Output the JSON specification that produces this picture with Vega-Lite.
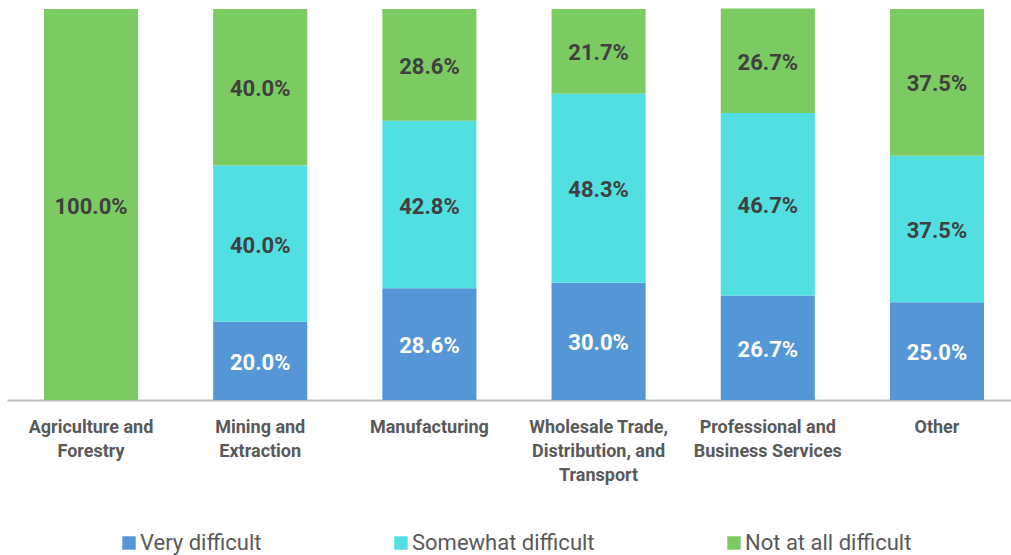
{
  "$schema": "https://vega.github.io/schema/vega-lite/v6.json",
  "autosize": "none",
  "width": 1004,
  "height": 391,
  "padding": {"left": 7, "top": 9, "right": 0, "bottom": 155},
  "background": "white",
  "config": {"view": {"stroke": null}},
  "data": {
    "values": [
      {"industry": "Agriculture and Forestry", "difficulty": "Very difficult", "share": 0},
      {"industry": "Agriculture and Forestry", "difficulty": "Somewhat difficult", "share": 0},
      {"industry": "Agriculture and Forestry", "difficulty": "Not at all difficult", "share": 1.0},
      {"industry": "Mining and Extraction", "difficulty": "Very difficult", "share": 0.2},
      {"industry": "Mining and Extraction", "difficulty": "Somewhat difficult", "share": 0.4},
      {"industry": "Mining and Extraction", "difficulty": "Not at all difficult", "share": 0.4},
      {"industry": "Manufacturing", "difficulty": "Very difficult", "share": 0.286},
      {"industry": "Manufacturing", "difficulty": "Somewhat difficult", "share": 0.428},
      {"industry": "Manufacturing", "difficulty": "Not at all difficult", "share": 0.286},
      {"industry": "Wholesale Trade, Distribution, and Transport", "difficulty": "Very difficult", "share": 0.3},
      {"industry": "Wholesale Trade, Distribution, and Transport", "difficulty": "Somewhat difficult", "share": 0.483},
      {"industry": "Wholesale Trade, Distribution, and Transport", "difficulty": "Not at all difficult", "share": 0.217},
      {"industry": "Professional and Business Services", "difficulty": "Very difficult", "share": 0.267},
      {"industry": "Professional and Business Services", "difficulty": "Somewhat difficult", "share": 0.467},
      {"industry": "Professional and Business Services", "difficulty": "Not at all difficult", "share": 0.267},
      {"industry": "Other", "difficulty": "Very difficult", "share": 0.25},
      {"industry": "Other", "difficulty": "Somewhat difficult", "share": 0.375},
      {"industry": "Other", "difficulty": "Not at all difficult", "share": 0.375}
    ]
  },
  "transform": [
    {"stack": "share", "groupby": ["industry"], "as": ["y0", "y1"]}
  ],
  "encoding": {
    "x": {
      "field": "industry",
      "type": "nominal",
      "sort": ["Agriculture and Forestry", "Mining and Extraction", "Manufacturing", "Wholesale Trade, Distribution, and Transport", "Professional and Business Services", "Other"],
      "scale": {"range": [0, 1014], "paddingInner": 0.444, "paddingOuter": 0.2187},
      "axis": {
        "title": null,
        "labelAngle": 0,
        "ticks": false,
        "domainColor": "#bfbfbf",
        "domainWidth": 2,
        "labelPadding": 18,
        "labelFont": "Roboto",
        "labelFontSize": 18,
        "labelFontWeight": "bold",
        "labelColor": "#595959",
        "labelLineHeight": 24,
        "labelLimit": 300,
        "labelExpr": "{'Agriculture and Forestry': ['Agriculture and', 'Forestry'], 'Mining and Extraction': ['Mining and', 'Extraction'], 'Wholesale Trade, Distribution, and Transport': ['Wholesale Trade,', 'Distribution, and', 'Transport'], 'Professional and Business Services': ['Professional and', 'Business Services']}[datum.label] || datum.label"
      }
    },
    "y": {
      "type": "quantitative",
      "scale": {"domain": [0, 1], "nice": false},
      "axis": null
    }
  },
  "layer": [
    {
      "mark": {"type": "bar"},
      "encoding": {
        "y": {
          "field": "y0",
          "type": "quantitative",
          "scale": {"domain": [0, 1], "nice": false},
          "axis": null
        },
        "y2": {"field": "y1"},
        "color": {
          "field": "difficulty",
          "type": "nominal",
          "sort": ["Very difficult", "Somewhat difficult", "Not at all difficult"],
          "scale": {
            "domain": ["Very difficult", "Somewhat difficult", "Not at all difficult"],
            "range": ["#5597D6", "#52DFE2", "#7CCA62"]
          },
          "legend": {
            "title": null,
            "orient": "none",
            "direction": "horizontal",
            "legendX": 111,
            "legendY": 523,
            "symbolType": "square",
            "symbolSize": 180,
            "symbolStrokeWidth": 0,
            "labelFont": "Roboto",
            "labelFontSize": 22,
            "labelColor": "#595959",
            "labelLimit": 400,
            "labelOffset": 0,
            "columnPadding": 128,
            "gridAlign": "none"
          }
        }
      }
    },
    {
      "transform": [
        {"filter": "datum.share > 0"},
        {"fold": ["y0", "y1"], "as": ["edge", "pos"]},
        {"aggregate": [{"op": "mean", "field": "pos", "as": "mid"}], "groupby": ["industry", "difficulty", "share"]}
      ],
      "mark": {
        "type": "text",
        "font": "Roboto",
        "fontSize": 22,
        "fontWeight": "bold",
        "baseline": "middle",
        "align": "center",
        "dy": 2
      },
      "encoding": {
        "y": {"field": "mid", "type": "quantitative", "scale": {"domain": [0, 1], "nice": false}, "axis": null},
        "text": {"field": "share", "type": "quantitative", "format": ".1%"},
        "color": {
          "condition": {"test": "datum.difficulty === 'Very difficult'", "value": "#ffffff"},
          "value": "#404040"
        }
      }
    }
  ]
}
